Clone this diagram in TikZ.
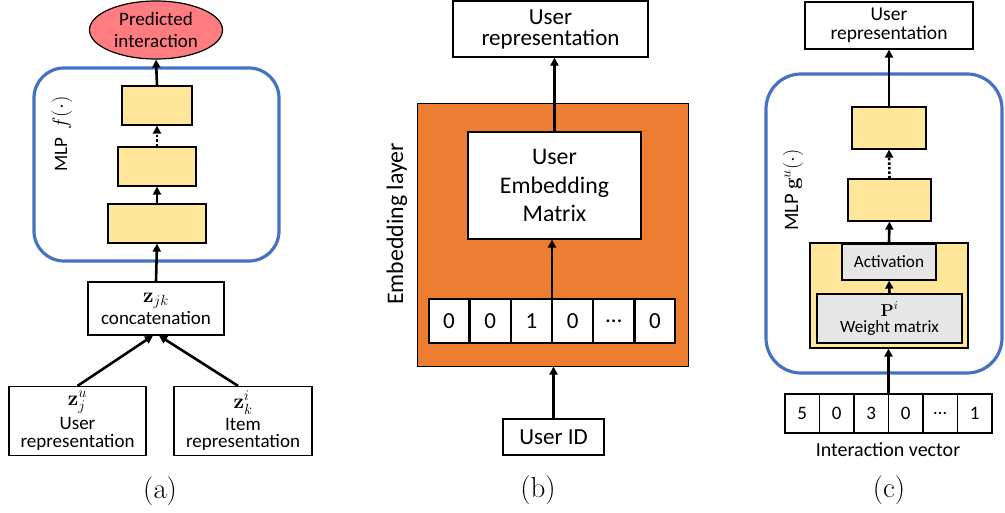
\RequirePackage{fix-cm}
\documentclass[tikz,border=0pt]{standalone}
\usepackage[no-math]{fontspec}
\setmainfont{Carlito}
\usepackage{amsmath,amssymb}
\usepackage{xcolor}
\usepackage{tikz}
\usetikzlibrary{shapes.geometric, positioning, calc, arrows.meta}

\definecolor{mlpblue}{HTML}{4472C4}
\definecolor{layeryellow}{HTML}{FFE699}
\definecolor{embedorange}{HTML}{ED7D31}
\definecolor{opgray}{HTML}{E7E6E6}
\definecolor{predred}{HTML}{FF7C80}

\newcommand{\fsz}[2]{\fontsize{#1}{#2}\selectfont}
\newcommand{\vecsym}[1]{{\fsz{21}{21}$#1$}}

\begin{document}
\begin{tikzpicture}[x=1pt, y=-1pt,
    box/.style={draw, line width=1.2pt, fill=white, inner sep=0pt, align=center},
    layer/.style={box, fill=layeryellow},
    op/.style={box, fill=opgray},
    flow/.style={-{Triangle[length=8pt,width=8pt]}, line width=2.6pt},
    dottedflow/.style={flow, dash pattern=on 2.5pt off 2pt},
    mlpframe/.style={draw=mlpblue, line width=3.2pt, rounded corners=30pt},
    caption/.style={font=\fsz{29}{34}}]

  \useasboundingbox (0,0) rectangle (1005,512);

  % ==========================================
  % (a) MLP on top of the concatenation
  % ==========================================
  \begin{scope}
    % MLP frame and label
    \draw[mlpframe] (34,68) rectangle (279,261);
    \node[rotate=90, font=\fsz{19}{22}] (mlpa) at (62,134) {MLP\hspace{8pt}{\fsz{21}{21}$f(\cdot)$}};

    % output
    \node[ellipse, draw, line width=1.2pt, fill=predred, inner sep=0pt,
          minimum width=133, minimum height=58, align=center,
          font=\fsz{19}{22}] (pred) at (156,30) {Predicted\\interaction};

    % layers
    \node[layer, minimum width=70, minimum height=39] (ya3) at (157,105.5) {};
    \node[layer, minimum width=78, minimum height=39] (ya2) at (157,166.5) {};
    \node[layer, minimum width=98, minimum height=39] (ya1) at (157,223.5) {};

    % inputs
    \node[box, minimum width=136, minimum height=53, font=\fsz{19}{16}] (concat) at (156,308.5)
      {\vecsym{\mathbf{z}_{jk}}\\[2pt]concatenation};
    \node[box, minimum width=137, minimum height=69, font=\fsz{19}{17.5}] (urep) at (77.5,421)
      {\vecsym{\mathbf{z}_j^u}\\[3pt]User\\representation};
    \node[box, minimum width=138, minimum height=69, font=\fsz{19}{17.5}] (irep) at (243,421)
      {\vecsym{\mathbf{z}_k^i}\\[3pt]Item\\representation};

    % arrows
    \draw[flow] (urep.north) -- ([xshift=-3pt]concat.south);
    \draw[flow] ([xshift=-5pt]irep.north) -- ([xshift=3pt]concat.south);
    \draw[flow] (concat.north) -- (ya1.south);
    \draw[flow] (ya1.north) -- (ya2.south);
    \draw[dottedflow] (ya2.north) -- (ya3.south);
    \draw[flow] (ya3.north) -- (pred.south);

    \node[caption] (capa) at (160,491) {$(\mathrm{a})$};
  \end{scope}

  % ==========================================
  % (b) embedding layer
  % ==========================================
  \begin{scope}
    \node[box, fill=embedorange, line width=1pt, minimum width=271, minimum height=263] (emb) at (552.5,234.5) {};
    \node[rotate=90, font=\fsz{23.8}{28}] (embl) at (397,224) {Embedding layer};

    \node[box, minimum width=195, minimum height=56, font=\fsz{23}{21}] (brep) at (550.5,29) {User\\representation};
    \node[box, minimum width=173, minimum height=107, font=\fsz{23.8}{28.5}] (matrix) at (554.5,185.5) {User\\Embedding\\Matrix};

    % one-hot vector
    \foreach \val [count=\k] in {0,0,1,0,\ldots,0}
      \node[box, minimum width=40, minimum height=44, font=\fsz{23}{26}] (bv\k) at ({449+41.2*(\k-1)},321) {\val};
    \coordinate (bvtop) at ($(bv3.north east)!0.5!(bv4.north west)$);

    \node[box, minimum width=101, minimum height=36, font=\fsz{23}{26}] (uid) at (553.5,437) {User ID};

    % arrows
    \draw[flow] (uid.north) -- (uid.north |- emb.south);
    \draw[flow] (bvtop) -- (bvtop |- matrix.south);
    \draw[flow] (matrix.north) -- (matrix.north |- brep.south);

    \node[caption] (capb) at (538,490) {$(\mathrm{b})$};
  \end{scope}

  % ==========================================
  % (c) MLP on the interaction vector
  % ==========================================
  \begin{scope}
    \draw[mlpframe, rounded corners=35pt] (766,74) rectangle (1002,373);
    \node[rotate=90, font=\fsz{20.5}{24}] (mlpc) at (793,190) {MLP\hspace{4pt}$\mathbf{g}^u(\cdot)$};

    \node[box, minimum width=168, minimum height=47, font=\fsz{19.5}{19}] (crep) at (889,25.5) {User\\representation};

    \node[layer, minimum width=74, minimum height=42] (yc3) at (889,128) {};
    \node[layer, minimum width=83, minimum height=42] (yc2) at (889.5,200) {};
    \node[layer, minimum width=158, minimum height=105] (yc1) at (889,295.5) {};
    \node[op, minimum width=94, minimum height=36, font=\fsz{17.2}{20}] (act) at (889,262) {Activation};
    \node[op, minimum width=145, minimum height=49, font=\fsz{17.2}{15}] (wmat) at (889.5,318.5)
      {$\mathbf{P}^i$\\[1pt]Weight matrix};

    % interaction vector
    \foreach \val [count=\k] in {5,0,3,0,\ldots,1}
      \node[box, minimum width=34.5, minimum height=39, font=\fsz{19}{22}] (cv\k) at ({802.25+34.5*(\k-1)},413.5) {\val};
    \coordinate (cvtop) at ($(cv3.north east)!0.5!(cv4.north west)$);
    \node[font=\fsz{20}{24}] (cvl) at (888,450) {Interaction vector};

    % arrows
    \draw[flow] (cvtop) -- (cvtop |- yc1.south);
    \draw[flow] (wmat.north) -- (act.south);
    \draw[flow] (yc1.north) -- (yc2.south);
    \draw[dottedflow] (yc2.north) -- (yc3.south);
    \draw[flow] (yc3.north) -- (crep.south);

    \node[caption] (capc) at (889,490) {$(\mathrm{c})$};
  \end{scope}

\end{tikzpicture}
\end{document}
